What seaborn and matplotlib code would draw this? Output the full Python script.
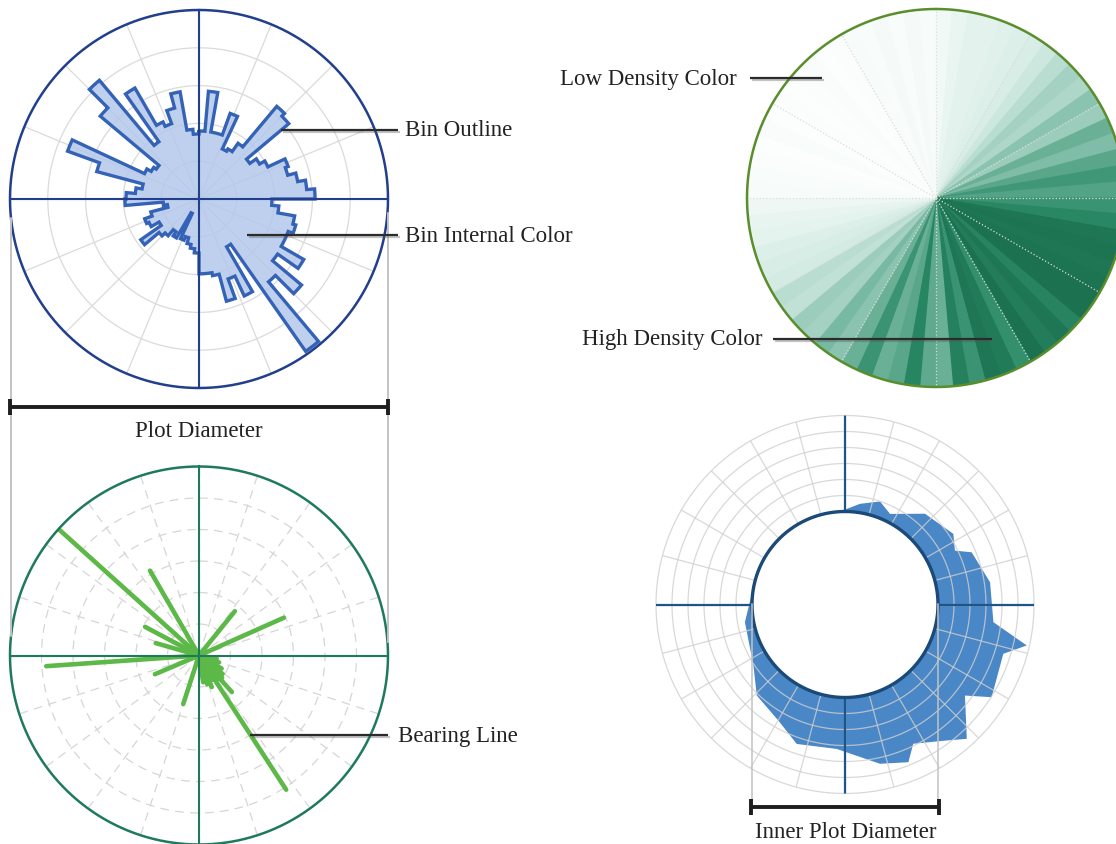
import numpy as np
import matplotlib
matplotlib.use("Agg")
import matplotlib.pyplot as plt
import matplotlib.patheffects as pe
import seaborn as sns

# ---------------- data ----------------
# Rose histogram (top-left): 5-degree bins, radius in ring units (5 rings)
rose_bin_deg = list(range(0, 360, 5))
rose_values = [1.80, 2.86, 1.80, 1.80, 2.41, 1.46, 1.53, 1.80, 3.20, 3.10,
               1.64, 1.85, 2.01, 2.51, 2.43, 2.65, 2.86, 3.07, 1.93, 2.12,
               2.57, 2.65, 2.51, 2.51, 3.20, 2.54, 3.54, 2.86, 4.92, 1.46,
               2.83, 2.25, 2.80, 2.06, 1.98, 1.98, 1.43, 1.32, 1.22, 1.06,
               1.16, 0.42, 1.19, 1.06, 1.27, 1.38, 1.88, 1.22, 1.46, 1.53,
               1.32, 0.85, 0.95, 1.96, 1.93, 1.69, 1.53, 2.80, 3.70, 1.59,
               1.46, 1.38, 3.41, 4.10, 1.85, 3.39, 2.25, 2.12, 2.49, 2.88,
               1.85, 1.72]

# Density pie (top-right): 5-degree bins, relative density 0..1
pie_bin_deg = list(range(0, 360, 5))
pie_density = [0.08, 0.13, 0.16, 0.16, 0.18, 0.20, 0.22, 0.27, 0.32, 0.38,
               0.35, 0.45, 0.40, 0.55, 0.48, 0.60, 0.68, 0.62, 0.70, 0.78,
               0.95, 0.97, 0.95, 0.97, 1.00, 1.00, 0.82, 0.95, 0.88, 1.00,
               0.72, 0.90, 0.95, 0.70, 0.85, 0.55, 0.58, 0.80, 0.60, 0.55,
               0.70, 0.55, 0.45, 0.50, 0.38, 0.40, 0.30, 0.32, 0.25, 0.22,
               0.20, 0.15, 0.14, 0.10, 0.05, 0.04, 0.03, 0.02, 0.04, 0.02,
               0.03, 0.02, 0.03, 0.04, 0.02, 0.03, 0.05, 0.04, 0.06, 0.04,
               0.06, 0.05]

# Bearing lines (bottom-left): bearing in degrees, length in ring units (6 rings)
bearing_deg = [39, 66, 100, 109, 120, 128, 134, 138, 143, 147, 150, 158,
               164, 171, 198, 247, 266, 286, 298, 312, 330]
bearing_len = [1.81, 2.95, 0.57, 0.67, 0.83, 0.95, 1.02, 1.56, 0.95, 5.08,
               0.89, 1.08, 0.95, 0.86, 1.62, 1.52, 4.86, 1.43, 1.94, 5.97, 3.11]

# Donut area (bottom-right): bearing in degrees, value above inner circle (6 rings)
donut_deg = [0, 8.5, 18.8, 26.4, 41.4, 56.9, 63.9, 67.6, 81.3, 96.8, 102.7,
             107.3, 122.3, 127.2, 137.8, 143.2, 153.9, 158.1, 167.6, 183.3,
             199.1, 209.9, 224.1, 236.4, 260, 272.4, 300, 330, 360]
donut_val = [0.12, 0.55, 0.99, 0.51, 1.75, 2.27, 1.84, 2.75, 3.36, 3.53, 5.83,
             4.55, 5.03, 3.60, 5.52, 4.80, 3.88, 4.81, 4.38, 3.23, 3.41, 2.55,
             2.11, 1.06, 0.54, 0.12, 0.08, 0.10, 0.12]

# ---------------- style ----------------
sns.set_theme(style="white")
plt.rcParams['font.family'] = ['Liberation Serif', 'DejaVu Serif']

W, H = 1116, 845
R = 189
fig = plt.figure(figsize=(W / 100, H / 100), dpi=100)
fig.patch.set_facecolor("white")

FULL = np.linspace(0, 2 * np.pi, 361)


def polar_ax(cx, cy, r=R):
    ax = fig.add_axes([(cx - r) / W, (H - cy - r) / H, 2 * r / W, 2 * r / H],
                      projection='polar')
    ax.set_theta_zero_location('N')
    ax.set_theta_direction(-1)
    ax.set_xticks([])
    ax.set_yticks([])
    ax.grid(False)
    ax.set_facecolor('none')
    for s in ax.spines.values():
        s.set_visible(False)
    return ax


# ---------- Panel 1: rose histogram ----------
ax1 = polar_ax(199, 200)
ax1.set_ylim(0, 5)
grid_c = '#dadada'
for ring in [1, 2, 3, 4]:
    ax1.plot(FULL, np.full_like(FULL, ring), color=grid_c, lw=0.9, zorder=1)
for a in np.arange(0, 360, 22.5):
    ax1.plot([np.deg2rad(a)] * 2, [0, 5], color=grid_c, lw=0.9, zorder=1)

th_parts, r_parts = [], []
for start, val in zip(rose_bin_deg, rose_values):
    t = np.deg2rad(np.linspace(start, start + 5, 8))
    th_parts.append(t)
    r_parts.append(np.full_like(t, val))
th = np.concatenate(th_parts + [th_parts[0][:1]])
rr = np.concatenate(r_parts + [r_parts[0][:1]])
ax1.fill(th, rr, color='#b3c8ea', alpha=0.85, lw=0, zorder=2)
ax1.plot(th, rr, color='#3462b6', lw=2.4, zorder=3, solid_joinstyle='miter')
navy = '#213f8c'
for a in [0, 90, 180, 270]:
    ax1.plot([np.deg2rad(a)] * 2, [0, 5], color=navy, lw=1.5, zorder=4)
ax1.plot(FULL, np.full_like(FULL, 5), color=navy, lw=1.8, zorder=4, clip_on=False)

# ---------- Panel 2: density pie ----------
ax2 = polar_ax(936, 199)
ax2.set_ylim(0, 1)
cmap = sns.blend_palette(["#ffffff", "#d3ebe2", "#78b9a3", "#2b8a66", "#1b7150"],
                         as_cmap=True)
cols = [cmap(v) for v in pie_density]
ax2.bar(np.deg2rad(np.array(pie_bin_deg) + 2.5), 1, width=np.deg2rad(5), bottom=0,
        color=cols, edgecolor=cols, linewidth=1.0, zorder=1)
for a in range(0, 360, 30):
    ax2.plot([np.deg2rad(a)] * 2, [0, 1], color='#dcdcdc', lw=0.9, ls=':', zorder=2)
ax2.plot(FULL, np.full_like(FULL, 1), color='#5a8d2b', lw=1.8, zorder=3, clip_on=False)

# ---------- Panel 3: bearing lines ----------
ax3 = polar_ax(199, 656.5)
ax3.set_ylim(0, 6)
dash_c = '#d6d6d6'
for ring in [1, 2, 3, 4, 5]:
    ax3.plot(FULL, np.full_like(FULL, ring), color=dash_c, lw=0.9,
             ls=(0, (7, 5)), zorder=1)
for a in np.arange(0, 360, 18):
    ax3.plot([np.deg2rad(a)] * 2, [0, 6], color=dash_c, lw=0.9,
             ls=(0, (7, 5)), zorder=1)
ax3.vlines(np.deg2rad(bearing_deg), 0, bearing_len, color='#5cb847', lw=3.3,
           zorder=2, capstyle='round')
teal = '#1f7a5c'
for a in [0, 90, 180, 270]:
    ax3.plot([np.deg2rad(a)] * 2, [0, 6], color=teal, lw=1.5, zorder=3)
ax3.plot(FULL, np.full_like(FULL, 6), color=teal, lw=1.8, zorder=3, clip_on=False)

# ---------- Panel 4: donut area ----------
ax4 = polar_ax(845, 605.5)
ax4.set_ylim(0, 6)
ax4.set_rorigin(-93 / 16)
t_out = np.deg2rad(donut_deg)
t_in = FULL[::-1]
ax4.fill(np.concatenate([t_out, t_in]),
         np.concatenate([donut_val, np.zeros_like(t_in)]),
         color='#4a87c6', lw=0, zorder=1)
for ring in [1, 2, 3, 4, 5, 6]:
    ax4.plot(FULL, np.full_like(FULL, ring), color='#cfcfcf', lw=0.9,
             alpha=0.8, zorder=2, clip_on=False)
for a in range(0, 360, 15):
    ax4.plot([np.deg2rad(a)] * 2, [0, 6], color='#cfcfcf', lw=0.9, alpha=0.8, zorder=2)
dblue = '#1d5587'
for a in [0, 90, 180, 270]:
    ax4.plot([np.deg2rad(a)] * 2, [0, 6], color=dblue, lw=1.6, zorder=3)
ax4.plot(FULL, np.zeros_like(FULL), color='#1b4a78', lw=2.4, zorder=4, clip_on=False)

# ---------- annotation overlay ----------
ov = fig.add_axes([0, 0, 1, 1], zorder=10)
ov.set_xlim(0, W)
ov.set_ylim(H, 0)
ov.axis('off')
ov.patch.set_alpha(0)

shadow = [pe.SimpleLineShadow(offset=(1.2, -1.5), alpha=0.35, shadow_color='#555555'),
          pe.Normal()]
lead_c = '#2b2b2b'
fs = 16.5


def leader(x0, x1, y):
    ov.plot([x0, x1], [y, y], color=lead_c, lw=1.6, path_effects=shadow,
            solid_capstyle='butt')


leader(281, 398, 131)
ov.text(405, 131, "Bin Outline", fontsize=fs, va='center', ha='left', color='#222222')
leader(247, 398, 236)
ov.text(405, 236, "Bin Internal Color", fontsize=fs, va='center', ha='left', color='#222222')
leader(750, 822, 79)
ov.text(737, 79, "Low Density Color", fontsize=fs, va='center', ha='right', color='#222222')
leader(773, 992, 340)
ov.text(762, 340, "High Density Color", fontsize=fs, va='center', ha='right', color='#222222')
leader(250, 388, 736)
ov.text(398, 737, "Bearing Line", fontsize=fs, va='center', ha='left', color='#222222')

# Plot diameter dimension
ext_c = '#c3c3c3'
ov.plot([11, 11], [219, 637], color=ext_c, lw=1.4, zorder=0)
ov.plot([387.5, 387.5], [214, 643], color=ext_c, lw=1.4, zorder=0)
ov.plot([10, 388], [408, 408], color='#1e1e1e', lw=2.8, solid_capstyle='butt')
ov.plot([10, 10], [400, 416], color='#1e1e1e', lw=2.8, solid_capstyle='butt')
ov.plot([388, 388], [400, 416], color='#1e1e1e', lw=2.8, solid_capstyle='butt')
ov.text(199, 432, "Plot Diameter", fontsize=fs, va='center', ha='center', color='#222222')

# Inner plot diameter dimension
ov.plot([752, 752], [605, 808], color=ext_c, lw=1.3, alpha=0.85, zorder=0)
ov.plot([938, 938], [605, 808], color=ext_c, lw=1.3, alpha=0.85, zorder=0)
ov.plot([751, 939], [808, 808], color='#1e1e1e', lw=2.8, solid_capstyle='butt')
ov.plot([751, 751], [800, 816], color='#1e1e1e', lw=2.8, solid_capstyle='butt')
ov.plot([939, 939], [800, 816], color='#1e1e1e', lw=2.8, solid_capstyle='butt')
ov.text(846, 833, "Inner Plot Diameter", fontsize=fs, va='center', ha='center', color='#222222')

fig.savefig("out.png", dpi=100, facecolor="white")
